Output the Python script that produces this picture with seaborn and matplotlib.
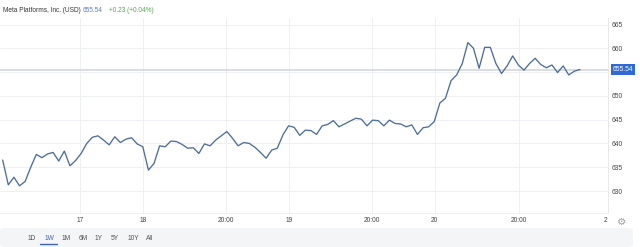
import matplotlib
matplotlib.use("Agg")
import matplotlib.pyplot as plt
import matplotlib.patches as mpatches
import seaborn as sns
import pandas as pd
import numpy as np

# ---- data ----
prices = [
    636.5, 631.3, 632.9, 631.1, 632.0, 635.0, 637.7, 637.0, 637.8, 638.1,
    636.3, 638.4, 635.3, 636.4, 637.9, 640.0, 641.3, 641.6, 640.7, 639.7,
    641.4, 640.2, 640.9, 641.2, 639.9, 639.3, 634.4, 635.8, 639.5,
    639.3, 640.5, 640.4, 639.8, 639.0, 639.1, 637.9, 639.9, 639.5, 640.7,
    641.6, 642.5, 641.1, 639.5, 640.2, 640.0, 639.2, 638.1, 636.9, 638.6,
    639.0, 641.8, 643.7, 643.4, 641.7, 642.8,
    642.7, 641.9, 643.7, 644.0, 644.8, 643.5, 644.1, 644.7, 645.3, 645.1,
    643.7, 644.9, 644.8, 643.7, 644.9, 644.2, 644.1, 643.5, 643.9, 641.9,
    643.3, 643.5, 644.6, 648.5,
    649.5, 653.2, 654.4, 656.8, 661.2, 660.0, 655.8, 660.2, 660.2, 656.8,
    654.7, 656.3, 658.4, 656.5, 655.4, 656.8, 657.9, 656.6, 655.9, 656.5,
    654.9, 656.3, 654.4, 655.2, 655.54,
]
x_tick_pos = [13.8, 25.0, 39.8, 51.1, 65.9, 77.1, 92.1, 107.5]
x_tick_labels = ["17", "18", "20:00", "19", "20:00", "20", "20:00", "2"]
y_ticks = [630, 635, 640, 645, 650, 655, 660, 665]
y_tick_labels = ["630", "635", "640", "645", "650", "", "660", "665"]
last_price = 655.54
title = "Meta Platforms, Inc. (USD)"
change_text = "+0.23 (+0.04%)"
ranges = ["1D", "1W", "1M", "6M", "1Y", "5Y", "10Y", "All"]
range_x = [32, 49, 66, 83, 99, 115, 133, 150]

df = pd.DataFrame({"t": np.arange(len(prices)), "price": prices})

sns.set_style("white")
plt.rcParams["font.family"] = ["Liberation Sans", "DejaVu Sans"]

W, H = 640, 247
fig = plt.figure(figsize=(W / 100, H / 100), dpi=100)
fig.patch.set_facecolor("white")

def fx(px):
    return px / W

def fy(py):
    return 1 - py / H

ax = fig.add_axes([0, fy(213), fx(608), fy(18) - fy(213)])
sns.lineplot(data=df, x="t", y="price", ax=ax, color="#4d6d9f", linewidth=0.95)

ax.set_xlim(-0.48, 108.0)
ax.set_ylim(625.38, 666.37)

ax.set_xticks(x_tick_pos)
ax.set_xticklabels(x_tick_labels)
ax.set_yticks(y_ticks)
ax.set_yticklabels(y_tick_labels)
ax.yaxis.tick_right()
ax.tick_params(axis="both", length=0, labelsize=4.8, colors="#444444")
ax.tick_params(axis="y", pad=2.6)
ax.tick_params(axis="x", pad=3.0)
ax.set_xlabel("")
ax.set_ylabel("")

for v in y_ticks:
    ax.axhline(v, color="#eceef1", linewidth=0.6, zorder=0)
for xv in x_tick_pos[:-1]:
    ax.axvline(xv, color="#eceef1", linewidth=0.6, zorder=0)

ax.axhline(last_price, color="#cfd3d8", linewidth=1.1, zorder=1)

for s in ["top", "left"]:
    ax.spines[s].set_visible(False)
ax.spines["right"].set_color("#e3e5e8")
ax.spines["right"].set_linewidth(0.6)
ax.spines["bottom"].set_color("#eceef0")
ax.spines["bottom"].set_linewidth(0.6)

# last price tag
ax.annotate(f"{last_price:.2f}", xy=(1.0, last_price), xycoords=("axes fraction", "data"),
            xytext=(3.4, 0), textcoords="offset points", ha="left", va="center",
            fontsize=4.8, color="white",
            bbox=dict(boxstyle="square,pad=0.25", fc="#2f6bd6", ec="none"))

# header
fig.text(fx(3), fy(11), title, fontsize=4.7, color="#333333", ha="left", va="center")
fig.text(fx(83), fy(11), f"{last_price:.2f}", fontsize=4.7, color="#5a7fc0", ha="left", va="center")
fig.text(fx(109), fy(11), change_text, fontsize=4.7, color="#4cae4c", ha="left", va="center")

# bottom range bar
bar = mpatches.FancyBboxPatch((0, 0), fx(633), fy(228), boxstyle="round,pad=0,rounding_size=0.01",
                              transform=fig.transFigure, fc="#f4f5f6", ec="none", zorder=0)
fig.patches.append(bar)
for lbl, xp in zip(ranges, range_x):
    col = "#3d63b8" if lbl == "1W" else "#555555"
    fig.text(fx(xp), fy(238), lbl, fontsize=4.8, color=col, ha="center", va="center")
fig.add_artist(plt.Line2D([fx(40), fx(57)], [fy(243.5), fy(243.5)], transform=fig.transFigure,
                          color="#3d63b8", linewidth=1.0))

# settings gear
fig.text(fx(622), fy(222), "\u2699", fontsize=7.5, color="#a0a0a0", ha="center", va="center",
         family=["DejaVu Sans"])

fig.savefig("out.png", dpi=100, facecolor="white")
